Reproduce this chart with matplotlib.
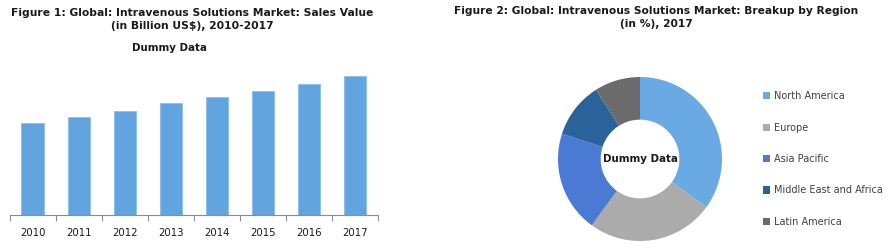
import matplotlib
matplotlib.use("Agg")
import matplotlib.pyplot as plt
import numpy as np

# bar chart data (billion US$, dummy)
years = ["2010", "2011", "2012", "2013", "2014", "2015", "2016", "2017"]
sales = [4.6, 4.9, 5.2, 5.6, 5.9, 6.2, 6.55, 6.95]

# donut data (% share, 2017)
regions = ["North America", "Europe", "Asia Pacific", "Middle East and Africa", "Latin America"]
shares = [35, 25, 20, 11, 9]
region_colors = ["#6AAAE4", "#ABABAB", "#4A7AD4", "#2A6399", "#6B6B6B"]

W, H = 892, 250
fig = plt.figure(figsize=(W / 100, H / 100), dpi=100)
plt.rcParams["font.family"] = "DejaVu Sans"

# titles
fig.text(192 / W, 1 - 13 / H, "Figure 1: Global: Intravenous Solutions Market: Sales Value",
         ha="center", va="center", fontsize=7.75, fontweight="bold", color="#1a1a1a")
fig.text(192 / W, 1 - 26 / H, "(in Billion US$), 2010-2017",
         ha="center", va="center", fontsize=7.75, fontweight="bold", color="#1a1a1a")
fig.text(169 / W, 1 - 48 / H, "Dummy Data",
         ha="center", va="center", fontsize=7.4, fontweight="bold", color="#1a1a1a")
fig.text(656 / W, 1 - 11 / H, "Figure 2: Global: Intravenous Solutions Market: Breakup by Region",
         ha="center", va="center", fontsize=7.7, fontweight="bold", color="#1a1a1a")
fig.text(656 / W, 1 - 24 / H, "(in %), 2017",
         ha="center", va="center", fontsize=7.7, fontweight="bold", color="#1a1a1a")

# bar chart
ax = fig.add_axes([9.5 / W, 35 / H, 368.5 / W, 160 / H])
pos = np.arange(len(years))
ax.bar(pos, sales, width=0.48, color="#62A4DF", edgecolor="#8CBDE9", linewidth=0.6)
ax.set_xlim(-0.5, len(years) - 0.5)
ax.set_ylim(0, 8)
for s in ["top", "right", "left"]:
    ax.spines[s].set_visible(False)
ax.spines["bottom"].set_color("#8C8C8C")
ax.set_yticks([])
ax.set_xticks(pos)
ax.set_xticklabels(years, fontsize=7.3, color="#1a1a1a")
ax.tick_params(axis="x", which="major", length=0, pad=9)
ax.set_xticks(np.arange(-0.5, len(years)), minor=True)
ax.tick_params(axis="x", which="minor", length=4, color="#8C8C8C", width=0.8)

# donut chart
r = 82
ax2 = fig.add_axes([(640 - r) / W, (H - 159 - r) / H, 2 * r / W, 2 * r / H])
wedges, _ = ax2.pie(shares, colors=region_colors, startangle=90, counterclock=False,
                    wedgeprops=dict(width=0.52, linewidth=0))
ax2.set_xlim(-1, 1)
ax2.set_ylim(-1, 1)
ax2.text(0, 0, "Dummy Data", ha="center", va="center", fontsize=7.4, fontweight="bold", color="#1a1a1a")

fig.legend(wedges, regions, loc="center left", bbox_to_anchor=(763 / W, 1 - 159 / H),
           frameon=False, fontsize=7, handlelength=0.75, handleheight=0.75, handletextpad=0.4,
           labelspacing=2.2, labelcolor="#404040", borderaxespad=0, borderpad=0)

fig.savefig("out.png", dpi=100)
